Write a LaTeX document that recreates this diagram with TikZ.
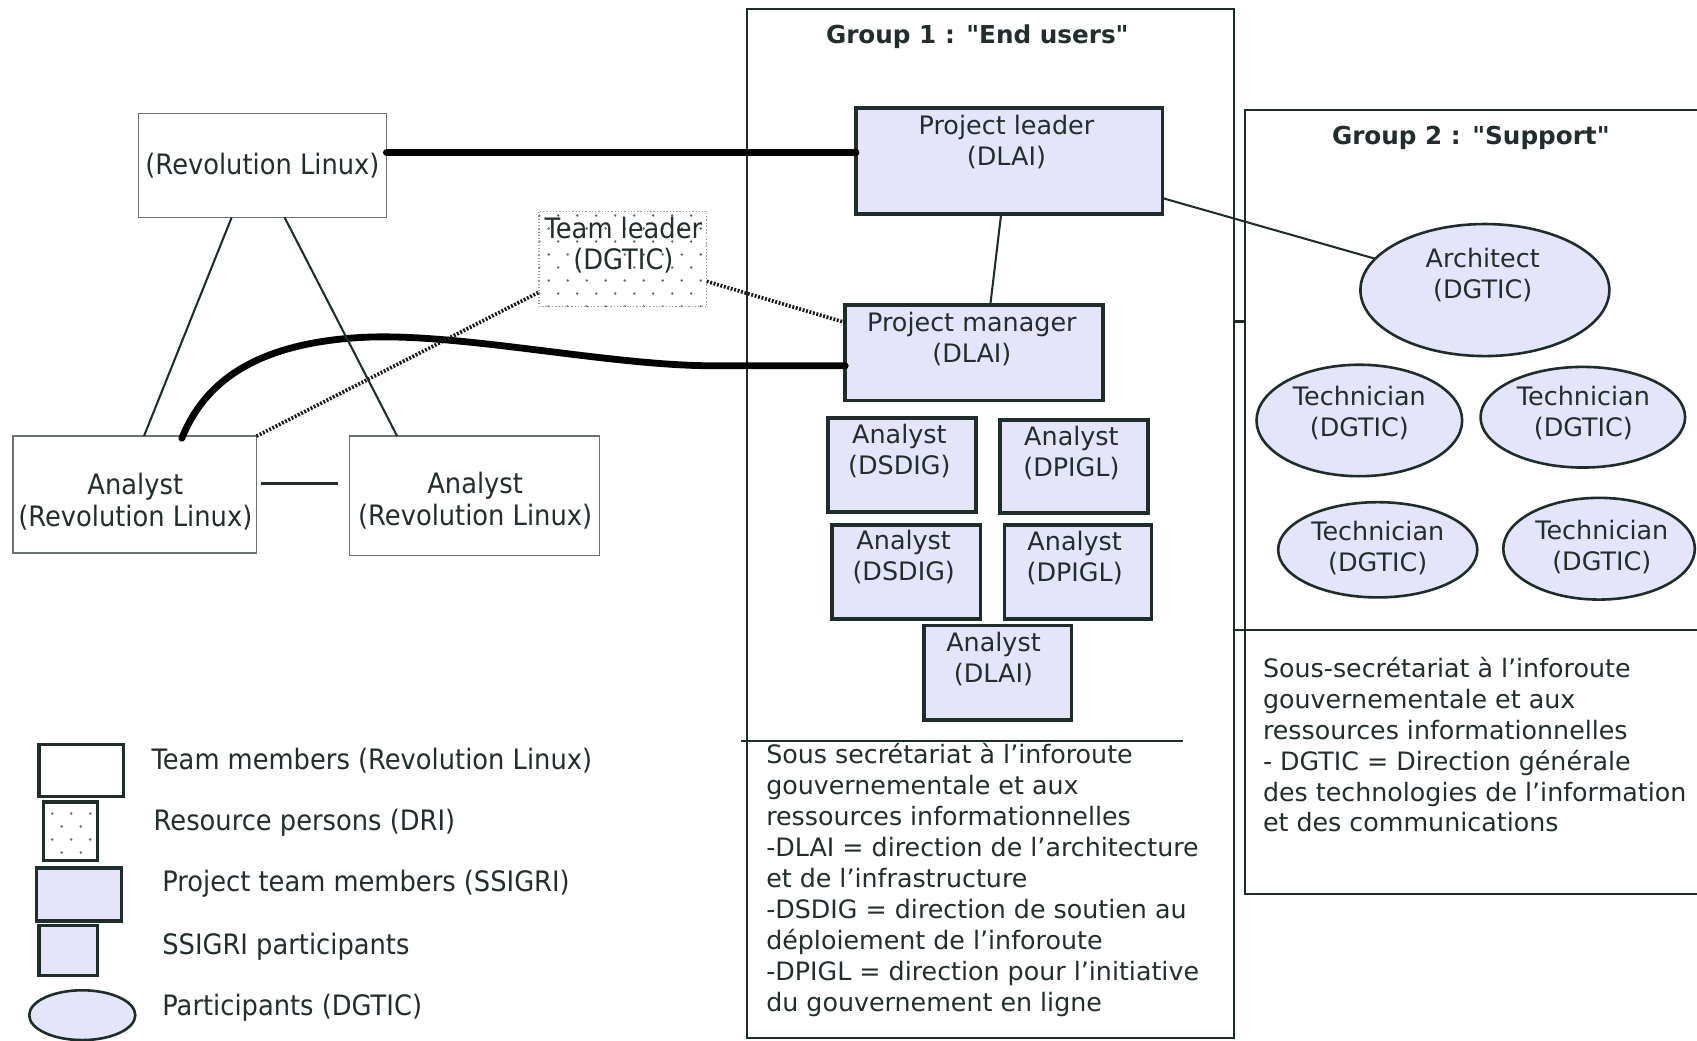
\documentclass[tikz,border=0pt]{standalone}
\usepackage{fontspec}
\setmainfont{DejaVu Sans}
\newfontfamily\cond[FakeStretch=0.915]{DejaVu Sans}
\usetikzlibrary{shapes.geometric,patterns.meta}
\definecolor{edge}{RGB}{30,45,42}
\definecolor{lav}{RGB}{228,228,250}
\definecolor{ink}{RGB}{35,45,45}
\definecolor{lgray}{RGB}{105,115,112}
\newcommand{\dq}{{\XeTeXglyph\XeTeXcharglyph"22\relax}}
\tikzdeclarepattern{
  name=sdots,
  type=uncolored,
  bounding box={(0pt,0pt) and (18pt,24pt)},
  tile size={(18pt,24pt)},
  code={
    \pgfpathcircle{\pgfpoint{4.5pt}{6pt}}{1.2pt}
    \pgfpathcircle{\pgfpoint{13.5pt}{18pt}}{1.2pt}
    \pgfusepath{fill}
  }
}
\begin{document}
\begin{tikzpicture}[x=1pt,y=-1pt,
  every node/.style={inner sep=0pt,outer sep=0pt},
  lbox/.style={rectangle,draw=lgray,line width=1.3pt,fill=white},
  dbox/.style={rectangle,draw=gray!80,line width=1pt,dash pattern=on 1.2pt off 1.8pt,
               pattern=sdots,pattern color=gray!80!black},
  pbox/.style={rectangle,draw=edge,line width=3.4pt,fill=lav},
  lgbox/.style={rectangle,draw=edge,line width=3pt},
  ell/.style={ellipse,draw=edge,line width=2.4pt,fill=lav},
  frame/.style={rectangle,draw=edge,line width=2pt},
  frameline/.style={draw=edge,line width=2pt},
  txt/.style={font=\fontsize{23.5}{28.6}\selectfont,align=center,text=ink},
  desc/.style={font=\fontsize{23.4}{28.6}\selectfont,align=left,text=ink,anchor=north west},
  ctxt/.style={font=\cond\fontsize{26}{29}\selectfont,align=center,text=ink},
  title/.style={font=\bfseries\fontsize{22.8}{26}\selectfont,text=ink},
  heavy/.style={draw=black,line width=6.3pt,line cap=round},
  thinc/.style={draw=edge,line width=1.9pt},
  midc/.style={draw=edge,line width=3pt},
  dotl/.style={draw=black!90,line width=3.4pt,dash pattern=on 1.8pt off 1.5pt}
]
\useasboundingbox (0,0) rectangle (1568,961);
\clip (0,0) rectangle (1568,961);
\fill[white] (0,0) rectangle (1568,961);

% ---------- Group 1 frame ----------
\node[frame,minimum width=450pt,minimum height=951pt] (g1) at (915,483.5) {};
\node[title] (g1t) at (903,34) {Group 1 : \dq End users\dq};
\draw[frameline] (685,685) -- (1093,685);

% ---------- Group 2 frame ----------
\node[frame,minimum width=460pt,minimum height=724pt] (g2) at (1380,464) {};
\node[title] (g2t) at (1359,127) {Group 2 : \dq Support\dq};
\draw[frameline] (1140,297) -- (1150,297);
\draw[frameline] (1140,582) -- (1580,582);

% ---------- left boxes ----------
\node[lbox,minimum width=229pt,minimum height=96pt,font=\cond\fontsize{26}{29}\selectfont,text=ink] (rl) at (242.5,153) {(Revolution Linux)};
\node[dbox,minimum width=155pt,minimum height=88pt] (tl) at (575.5,239) {};
\node[ctxt] (tlt) at (576,226.5) {Team leader\\(DGTIC)};
\node[lbox,minimum width=225pt,minimum height=108pt] (al) at (124.5,457) {};
\node[ctxt] (alt) at (125,463.5) {Analyst\\(Revolution Linux)};
\node[lbox,minimum width=231pt,minimum height=110pt] (ar) at (438.5,458) {};
\node[ctxt] (art) at (439,462.5) {Analyst\\(Revolution Linux)};

% ---------- Group 1 boxes ----------
\node[pbox,minimum width=283pt,minimum height=98pt] (pl) at (932.5,149) {};
\node[txt] (plt) at (930,131) {Project leader\\(DLAI)};
\node[pbox,minimum width=238pt,minimum height=88pt] (pm) at (900,326) {};
\node[txt] (pmt) at (898,313) {Project manager\\(DLAI)};
\node[pbox,minimum width=137pt,minimum height=87pt] (a1) at (833.5,429.5) {};
\node[txt] (a1t) at (831,417) {Analyst\\(DSDIG)};
\node[pbox,minimum width=137pt,minimum height=86pt] (a2) at (992.5,431) {};
\node[txt] (a2t) at (990,419) {Analyst\\(DPIGL)};
\node[pbox,minimum width=137pt,minimum height=87pt] (a3) at (837.5,528.5) {};
\node[txt] (a3t) at (835,514.5) {Analyst\\(DSDIG)};
\node[pbox,minimum width=136pt,minimum height=87pt] (a4) at (996,528.5) {};
\node[txt] (a4t) at (993,516) {Analyst\\(DPIGL)};
\node[pbox,minimum width=136pt,minimum height=87pt] (a5) at (922,621.5) {};
\node[txt] (a5t) at (918,609) {Analyst\\(DLAI)};

\node[desc] (g1d) at (708,687) {Sous secrétariat à l’inforoute\\gouvernementale et aux\\ressources informationnelles\\-DLAI = direction de l’architecture\\et de l’infrastructure\\-DSDIG = direction de soutien au\\déploiement de l’inforoute\\-DPIGL = direction pour l’initiative\\du gouvernement en ligne};

% ---------- Group 2 ellipses ----------
\node[ell,minimum width=230pt,minimum height=122pt] (arch) at (1372,268) {};
\node[txt] (archt) at (1370,254.5) {Architect\\(DGTIC)};
\node[ell,minimum width=190pt,minimum height=103pt] (t1) at (1256,388.5) {};
\node[txt] (t1t) at (1256,381.5) {Technician\\(DGTIC)};
\node[ell,minimum width=189pt,minimum height=93pt] (t2) at (1462.5,385.5) {};
\node[txt] (t2t) at (1463,381.5) {Technician\\(DGTIC)};
\node[ell,minimum width=184pt,minimum height=88pt] (t3) at (1273,508) {};
\node[txt] (t3t) at (1273,506) {Technician\\(DGTIC)};
\node[ell,minimum width=177pt,minimum height=94pt] (t4) at (1477.5,507) {};
\node[txt] (t4t) at (1480,505) {Technician\\(DGTIC)};

\node[desc] (g2d) at (1167,607) {Sous-secrétariat à l’inforoute\\gouvernementale et aux\\ressources informationnelles\\- DGTIC = Direction générale\\des technologies de l’information\\et des communications};

% ---------- legend ----------
\node[lgbox,fill=white,minimum width=78pt,minimum height=48pt] (lg1) at (75,712) {};
\node[ctxt,anchor=west] (lg1t) at (140,703) {Team members (Revolution Linux)};
\node[lgbox,pattern=sdots,pattern color=gray!80!black,minimum width=50pt,minimum height=54pt] (lg2) at (65,768) {};
\node[ctxt,anchor=west] (lg2t) at (142,760) {Resource persons (DRI)};
\node[lgbox,fill=lav,minimum width=78pt,minimum height=49pt] (lg3) at (73,826.5) {};
\node[ctxt,anchor=west] (lg3t) at (150,817) {Project team members (SSIGRI)};
\node[lgbox,fill=lav,minimum width=54pt,minimum height=46pt] (lg4) at (63,878) {};
\node[ctxt,anchor=west] (lg4t) at (150,875) {SSIGRI participants};
\node[ell,minimum width=98pt,minimum height=46pt] (lg5) at (76,938) {};
\node[ctxt,anchor=west] (lg5t) at (150,931) {Participants (DGTIC)};

% ---------- connectors ----------
\coordinate (c1) at ([yshift=12pt]rl.east);
\draw[heavy] (c1) -- (c1 -| pl.west);
\coordinate (k0) at ([xshift=43.5pt,yshift=-2pt]al.north);
\coordinate (k1) at (330,312);
\coordinate (k2) at (660,338);
\draw[heavy] (k0) .. controls (190,350) and (240,318) .. (k1)
  .. controls (420,306) and (560,338) .. (k2) -- (k2 -| pm.west);
\draw[dotl] (al.north east) -- ([yshift=13pt]tl.south west);
\draw[dotl] ([yshift=-21pt]tl.east) -- ([yshift=28pt]pm.west);
\draw[thinc] ([xshift=-28.5pt]rl.south) -- ([xshift=8.5pt]al.north);
\draw[thinc] ([xshift=20.5pt]rl.south) -- ([xshift=-71.5pt]ar.north);
\draw[midc] ([xshift=4pt,yshift=10pt]al.east) -- ([xshift=-11pt,yshift=11pt]ar.west);
\draw[thinc] ([xshift=-7.5pt]pl.south) -- ([xshift=15pt]pm.north);
\draw[thinc] ([yshift=-34pt]pl.east) -- (arch);
\end{tikzpicture}
\end{document}
